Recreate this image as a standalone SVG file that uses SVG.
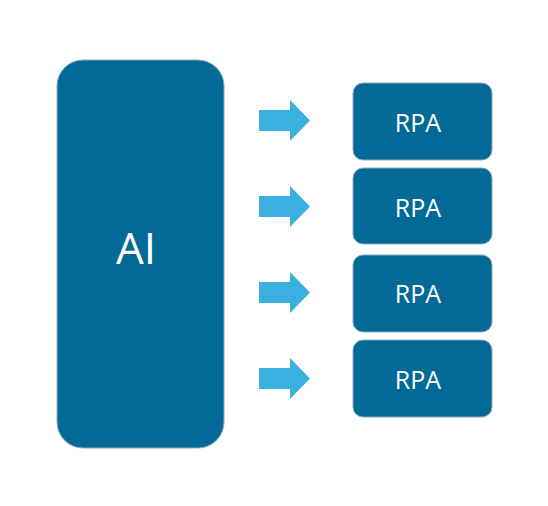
<svg xmlns="http://www.w3.org/2000/svg" width="548" height="506" viewBox="0 0 548 506">
<style>
.box{fill:#036A98;stroke:#8FA9BF;stroke-width:1}
.lbl{fill:#FFFFFF;font-family:"Open Sans","Noto Sans",sans-serif;text-anchor:middle}
.arr{fill:#3AB0E0}
</style>
<rect width="548" height="506" fill="#FFFFFF"/>
<g id="ai">
<rect class="box" x="57" y="60" width="167" height="388" rx="26" ry="26"/>
<text class="lbl" x="136" y="264" font-size="44">AI</text>
</g>
<g id="rpa1">
<rect class="box" x="353" y="83" width="139" height="77" rx="10" ry="10"/>
<text class="lbl" x="418" y="132" font-size="25">RPA</text>
</g>
<g id="rpa2">
<rect class="box" x="353" y="168" width="139" height="76" rx="10" ry="10"/>
<text class="lbl" x="418" y="217" font-size="25">RPA</text>
</g>
<g id="rpa3">
<rect class="box" x="353" y="255" width="139" height="77" rx="10" ry="10"/>
<text class="lbl" x="418" y="303" font-size="25">RPA</text>
</g>
<g id="rpa4">
<rect class="box" x="353" y="340" width="139" height="77" rx="10" ry="10"/>
<text class="lbl" x="418" y="389" font-size="25">RPA</text>
</g>
<g id="connectors">
<polygon class="arr" points="259,110 290,110 290,100 310,120.5 290,141 290,131 259,131"/>
<polygon class="arr" points="259,196 290,196 290,186 310,206.5 290,227 290,217 259,217"/>
<polygon class="arr" points="259,282 290,282 290,272 310,292.5 290,313 290,303 259,303"/>
<polygon class="arr" points="259,368 290,368 290,358 310,378.5 290,399 290,389 259,389"/>
</g>
</svg>
